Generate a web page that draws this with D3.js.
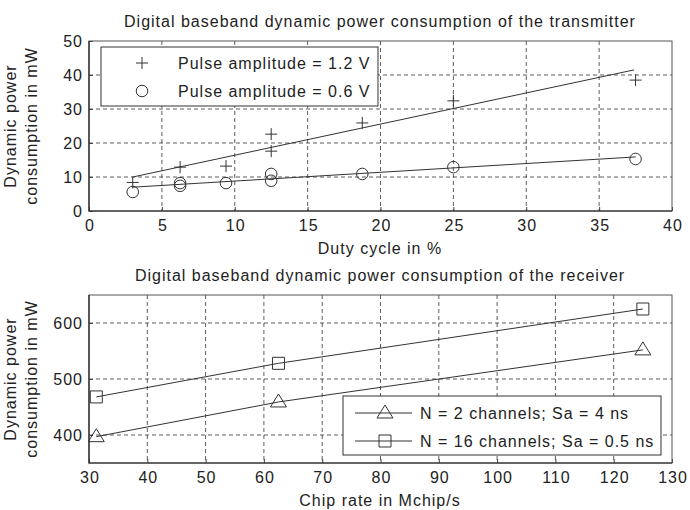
<!DOCTYPE html>
<html>
<head>
<meta charset="utf-8">
<script src="https://cdn.jsdelivr.net/npm/d3@7"></script>
<style>
  body { margin: 0; background: #fff; }
  svg text { font-family: "Liberation Sans", Arial, sans-serif; fill: #222; letter-spacing: 1px; }
</style>
</head>
<body>
<div id="canvas"></div>
<script>
// Data - transmitter (duty cycle in %, power in mW)
const txDuty12 = [3, 6.25, 9.4, 12.5, 12.5, 18.75, 25, 37.5];
const txPower12 = [8.4, 12.9, 13.2, 22.6, 17.6, 25.9, 32.4, 38.5];
const txDuty06 = [3, 6.25, 6.25, 9.4, 12.5, 12.5, 18.75, 25, 37.5];
const txPower06 = [5.6, 8.2, 7.4, 8.2, 10.9, 8.9, 10.9, 12.9, 15.3];
// fitted lines (end points)
const txFit12 = [[3, 10], [37.4, 41.5]];
const txFit06 = [[3, 7.0], [37.5, 15.9]];
const txLegend = ['Pulse amplitude = 1.2 V', 'Pulse amplitude = 0.6 V'];

// Data - receiver (chip rate in Mchip/s, power in mW)
const chipRate = [31.25, 62.5, 125];
const rxN2 = [397, 459, 552];
const rxN16 = [468, 528, 625];
const rxLegend = ['N = 2 channels; Sa = 4 ns', 'N = 16 channels; Sa = 0.5 ns'];

const txXTicks = [0, 5, 10, 15, 20, 25, 30, 35, 40];
const txYTicks = [0, 10, 20, 30, 40, 50];
const rxXTicks = [30, 40, 50, 60, 70, 80, 90, 100, 110, 120, 130];
const rxYTicks = [400, 500, 600];

const WIDTH = 690;
const HEIGHT = 510;
const FS = 16;
const svg = d3.select('#canvas').append('svg')
    .attr('width', WIDTH).attr('height', HEIGHT);

const line = d3.line();

function buildPanel(opts) {
    const x = d3.scaleLinear().domain(opts.xDomain).range([89, 672]);
    const y = d3.scaleLinear().domain(opts.yDomain).range([opts.bottom, opts.top]);
    const g = svg.append('g');

    // grid
    g.selectAll('.vgrid').data(opts.xTicks.slice(1, -1)).join('line')
        .attr('x1', d => x(d)).attr('x2', d => x(d))
        .attr('y1', opts.top).attr('y2', opts.bottom)
        .attr('stroke', '#333').attr('stroke-dasharray', '4,3').attr('stroke-width', 0.8);
    g.selectAll('.hgrid').data(opts.yTicks.filter(d => d > opts.yDomain[0] && d < opts.yDomain[1])).join('line')
        .attr('x1', 89).attr('x2', 672)
        .attr('y1', d => y(d)).attr('y2', d => y(d))
        .attr('stroke', '#333').attr('stroke-dasharray', '4,3').attr('stroke-width', 0.8);

    // axes, ticks inward
    const xAxis = d3.axisBottom(x).tickValues(opts.xTicks).tickSizeInner(-4).tickSizeOuter(0).tickPadding(9);
    const yAxis = d3.axisLeft(y).tickValues(opts.yTicks).tickSizeInner(-4).tickSizeOuter(0).tickPadding(6);
    const xa = g.append('g').attr('transform', `translate(0,${opts.bottom})`).call(xAxis);
    const ya = g.append('g').attr('transform', 'translate(89,0)').call(yAxis);
    [xa, ya].forEach(a => {
        a.select('.domain').remove();
        a.selectAll('text').attr('font-size', FS).attr('fill', '#222')
            .attr('font-family', '"Liberation Sans", Arial, sans-serif');
        a.selectAll('line').attr('stroke', '#444');
    });
    // letter-spacing adds a trailing gap, nudge x labels back to centre
    xa.selectAll('text').attr('dx', 0.5);

    // frame
    g.append('rect').attr('x', 89).attr('y', opts.top)
        .attr('width', 583).attr('height', opts.bottom - opts.top)
        .attr('fill', 'none').attr('stroke', '#555').attr('stroke-width', 1);
    g.append('path').attr('d', `M89,${opts.top}V${opts.bottom}H672`)
        .attr('fill', 'none').attr('stroke', '#222').attr('stroke-width', 1.2);

    // titles
    g.append('text').attr('x', 380).attr('y', opts.top - 14)
        .attr('text-anchor', 'middle').attr('font-size', FS).text(opts.title);
    g.append('text').attr('x', 380).attr('y', opts.bottom + 43)
        .attr('text-anchor', 'middle').attr('font-size', FS).text(opts.xLabel);
    const cy = (opts.top + opts.bottom) / 2;
    g.append('text').attr('transform', `translate(16,${cy}) rotate(-90)`)
        .attr('text-anchor', 'middle').attr('font-size', FS).text('Dynamic power');
    g.append('text').attr('transform', `translate(37,${cy}) rotate(-90)`)
        .attr('text-anchor', 'middle').attr('font-size', FS).text('consumption in mW');

    return { g, x, y };
}

function marker(g, type, cx, cy) {
    const s = g.append('path').attr('fill', 'none').attr('stroke', '#333').attr('stroke-width', 1);
    if (type === 'plus') s.attr('d', `M${cx - 6},${cy}H${cx + 6}M${cx},${cy - 6}V${cy + 6}`);
    if (type === 'circle') s.attr('d', d3.symbol(d3.symbolCircle, 105)()).attr('transform', `translate(${cx},${cy})`);
    if (type === 'square') s.attr('d', `M${cx - 6},${cy - 6}h12v12h-12z`);
    if (type === 'triangle') s.attr('d', `M${cx},${cy - 8}L${cx + 8},${cy + 5}L${cx - 8},${cy + 5}Z`);
}

// ---- transmitter panel
const tx = buildPanel({
    xDomain: [0, 40], yDomain: [0, 50], top: 41, bottom: 211,
    xTicks: txXTicks, yTicks: txYTicks,
    title: 'Digital baseband dynamic power consumption of the transmitter',
    xLabel: 'Duty cycle in %'
});
[txFit12, txFit06].forEach(f => {
    tx.g.append('path').attr('d', line(f.map(p => [tx.x(p[0]), tx.y(p[1])])))
        .attr('fill', 'none').attr('stroke', '#333').attr('stroke-width', 1);
});
txDuty12.forEach((d, i) => marker(tx.g, 'plus', tx.x(d), tx.y(txPower12[i])));
txDuty06.forEach((d, i) => marker(tx.g, 'circle', tx.x(d), tx.y(txPower06[i])));

// legend
tx.g.append('rect').attr('x', 101).attr('y', 47).attr('width', 277).attr('height', 59)
    .attr('fill', '#fff').attr('stroke', '#333');
['plus', 'circle'].forEach((t, i) => {
    marker(tx.g, t, 142, 63 + i * 28);
    tx.g.append('text').attr('x', 178).attr('y', 69 + i * 28)
        .attr('font-size', FS).text(txLegend[i]);
});

// ---- receiver panel
const rx = buildPanel({
    xDomain: [30, 130], yDomain: [350, 650], top: 295, bottom: 463,
    xTicks: rxXTicks, yTicks: rxYTicks,
    title: 'Digital baseband dynamic power consumption of the receiver',
    xLabel: 'Chip rate in Mchip/s'
});
[[rxN2, 'triangle'], [rxN16, 'square']].forEach(([vals, t]) => {
    rx.g.append('path').attr('d', line(chipRate.map((c, i) => [rx.x(c), rx.y(vals[i])])))
        .attr('fill', 'none').attr('stroke', '#333').attr('stroke-width', 1);
    chipRate.forEach((c, i) => marker(rx.g, t, rx.x(c), rx.y(vals[i])));
});

rx.g.append('rect').attr('x', 343).attr('y', 396).attr('width', 318).attr('height', 59)
    .attr('fill', '#fff').attr('stroke', '#333');
['triangle', 'square'].forEach((t, i) => {
    const ly = 413 + i * 28;
    rx.g.append('line').attr('x1', 355).attr('x2', 412).attr('y1', ly).attr('y2', ly)
        .attr('stroke', '#333');
    marker(rx.g, t, 385, ly);
    rx.g.append('text').attr('x', 420).attr('y', ly + 6)
        .attr('font-size', FS).text(rxLegend[i]);
});
</script>
</body>
</html>
